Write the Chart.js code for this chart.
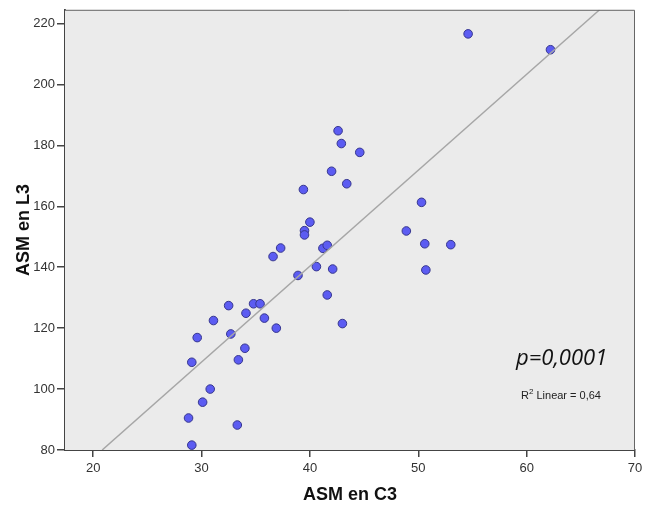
<!DOCTYPE html>
<html>
<head>
<meta charset="utf-8">
<script src="https://cdn.jsdelivr.net/npm/chart.js@4/dist/chart.umd.min.js"></script>
<style>
  html, body { margin: 0; padding: 0; background: #fff; }
  #wrap { width: 656px; height: 509px; }
</style>
</head>
<body>
<div id="wrap"><canvas id="c" width="656" height="509"></canvas></div>
<script>
// data
const asmC3 = [54.6, 62.2, 42.6, 42.9, 44.6, 42.0, 43.4, 39.4, 40.0, 39.5, 39.5,
  37.3, 41.2, 41.6, 40.6, 42.1, 38.9, 41.6, 43.0, 36.6, 32.5, 34.8, 35.4, 34.1,
  35.8, 31.1, 36.9, 32.7, 29.6, 29.1, 34.0, 33.4, 30.8, 30.1, 28.8, 33.3, 29.1,
  50.3, 48.9, 50.6, 53.0, 50.7];
const asmL3 = [216.6, 211.4, 184.8, 180.6, 177.7, 171.5, 167.4, 165.5, 154.8, 152.0, 150.6,
  146.3, 146.2, 147.2, 140.2, 139.4, 137.3, 130.9, 121.5, 143.5, 127.4, 128.0, 128.0, 124.9,
  123.3, 122.5, 120.0, 118.1, 116.9, 108.8, 113.4, 109.6, 100.0, 95.7, 90.5, 88.2, 81.6,
  161.3, 151.9, 147.7, 147.4, 139.1];

const xTicks = [20, 30, 40, 50, 60, 70];
const yTicks = [80, 100, 120, 140, 160, 180, 200, 220];
const xMin = 17.4, xMax = 70;
const yMin = 80, yMax = 224.5;

// fit line (R2 linear = 0,64)
const slope = 3.148;
const intercept = 14.43;
const fitX = [(yMin - intercept) / slope, (yMax - intercept) / slope];

const points = asmC3.map((x, i) => ({ x: x, y: asmL3[i] }));
const fitLine = fitX.map(x => ({ x: x, y: intercept + slope * x }));

// plot background + frame + labels
const frame = {
  id: "frame",
  beforeDatasetsDraw(chart) {
    const a = chart.chartArea, ctx = chart.ctx;
    ctx.save();
    ctx.fillStyle = "#ebebeb";
    ctx.fillRect(a.left, a.top, a.right - a.left, a.bottom - a.top);
    ctx.restore();
  },
  afterDraw(chart) {
    const a = chart.chartArea, ctx = chart.ctx;
    ctx.save();
    ctx.strokeStyle = "#666";
    ctx.lineWidth = 1;
    ctx.beginPath();
    ctx.moveTo(a.left, a.top + 0.5);
    ctx.lineTo(a.right - 0.5, a.top + 0.5);
    ctx.lineTo(a.right - 0.5, a.bottom);
    ctx.stroke();
    ctx.fillStyle = "#111";
    ctx.font = 'italic 22px "Open Sans"';
    ctx.textBaseline = "alphabetic";
    ctx.fillText("p=0,0001", 516, 365);
    ctx.fillStyle = "#222";
    ctx.font = '11px "Liberation Sans"';
    ctx.fillText("R", 521, 399);
    let w = ctx.measureText("R").width;
    ctx.font = '8px "Liberation Sans"';
    ctx.fillText("2", 521 + w, 394);
    let w2 = ctx.measureText("2").width;
    ctx.font = '11px "Liberation Sans"';
    ctx.fillText(" Linear = 0,64", 521 + w + w2, 399);
    ctx.restore();
  }
};

new Chart(document.getElementById("c"), {
  type: "scatter",
  data: {
    datasets: [
      {
        type: "line",
        data: fitLine,
        borderColor: "#a6a6a6",
        borderWidth: 1.5,
        pointRadius: 0,
        fill: false
      },
      {
        data: points,
        backgroundColor: "#5c5cf2",
        borderColor: "#37378f",
        borderWidth: 1,
        pointRadius: 4.3,
        pointHoverRadius: 4.3
      }
    ]
  },
  options: {
    responsive: false,
    animation: false,
    events: [],
    layout: { padding: { top: 7, right: 21, left: 0, bottom: 0 } },
    plugins: { legend: { display: false }, tooltip: { enabled: false } },
    scales: {
      x: {
        type: "linear",
        min: xMin,
        max: xMax,
        afterBuildTicks: s => { s.ticks = xTicks.map(v => ({ value: v })); },
        afterFit: s => { s.height = 59; },
        grid: { drawOnChartArea: false, drawTicks: true, tickLength: 7, color: "#444", lineWidth: 1.5 },
        border: { display: true, color: "#444", width: 2 },
        ticks: { color: "#333", font: { family: "Liberation Sans", size: 13 }, padding: 4, maxRotation: 0 },
        title: {
          display: true,
          text: "ASM en C3",
          color: "#111",
          font: { family: "Liberation Sans", size: 18, weight: "bold" },
          padding: { top: 0, bottom: 3 }
        }
      },
      y: {
        type: "linear",
        min: yMin,
        max: yMax,
        afterBuildTicks: s => { s.ticks = yTicks.map(v => ({ value: v })); },
        afterFit: s => { s.width = 65; },
        grid: { drawOnChartArea: false, drawTicks: true, tickLength: 8, color: "#444", lineWidth: 1.5 },
        border: { display: true, color: "#444", width: 2 },
        ticks: { color: "#333", font: { family: "Liberation Sans", size: 13 }, padding: 2 },
        title: {
          display: true,
          text: "ASM en L3",
          color: "#111",
          font: { family: "Liberation Sans", size: 18, weight: "bold" },
          padding: { top: 13, bottom: 0 }
        }
      }
    }
  },
  plugins: [frame]
});
</script>
</body>
</html>
